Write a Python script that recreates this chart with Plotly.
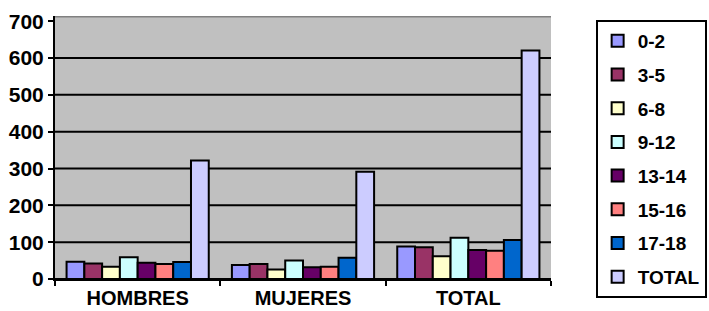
import plotly.graph_objects as go

categories = ["HOMBRES", "MUJERES", "TOTAL"]
series_names = ["0-2", "3-5", "6-8", "9-12", "13-14", "15-16", "17-18", "TOTAL"]
v_0_2 = [47, 38, 88]
v_3_5 = [42, 41, 86]
v_6_8 = [33, 26, 62]
v_9_12 = [59, 50, 112]
v_13_14 = [44, 32, 79]
v_15_16 = [41, 33, 77]
v_17_18 = [46, 58, 106]
v_total = [322, 291, 620]
series_values = [v_0_2, v_3_5, v_6_8, v_9_12, v_13_14, v_15_16, v_17_18, v_total]
colors = ["#9999FF", "#993366", "#FFFFCC", "#CCFFFF", "#660066", "#FF8080", "#0066CC", "#CCCCFF"]
y_ticks = [0, 100, 200, 300, 400, 500, 600, 700]

FONT = "Liberation Sans, Arial, sans-serif"

fig = go.Figure()
for name, vals, col in zip(series_names, series_values, colors):
    fig.add_trace(go.Bar(
        x=categories, y=vals, name=name, legendgroup=name,
        marker=dict(color=col, line=dict(color="black", width=2)),
    ))

# black gridlines inside the wall (not at 0 or the top)
for v in y_ticks[1:-1]:
    fig.add_hline(y=v, line=dict(color="black", width=2), layer="below")
# grey top edge of back wall
fig.add_hline(y=714, line=dict(color="#808080", width=3), layer="below")

fig.update_layout(
    width=709, height=311,
    margin=dict(l=55, r=158, t=16, b=32, autoexpand=False),
    paper_bgcolor="white",
    plot_bgcolor="#C0C0C0",
    barmode="group",
    bargap=0.14,
    bargroupgap=0,
    font=dict(family=FONT, size=20, color="black"),
    showlegend=True,
    legend=dict(
        x=1.09, xanchor="left", y=0.985, yanchor="top",
        bordercolor="black", borderwidth=2,
        font=dict(family=FONT, size=19, color="black", weight="bold"),
        tracegroupgap=6, itemwidth=30,
        bgcolor="white", maxheight=300,
    ),
    xaxis=dict(
        tickfont=dict(family=FONT, size=20, color="black", weight="bold"),
        showline=True, linecolor="black", linewidth=2,
        ticks="outside", tickson="boundaries", ticklen=5, tickcolor="black", tickwidth=2,
        showgrid=False,
    ),
    yaxis=dict(
        range=[0, 714], tickvals=y_ticks,
        tickfont=dict(family=FONT, size=21, color="black", weight="bold"),
        showline=True, linecolor="black", linewidth=2,
        ticks="outside", ticklen=5, tickcolor="black", tickwidth=2,
        showgrid=False,
        zeroline=True, zerolinecolor="black", zerolinewidth=2,
    ),
)

fig.write_html(
    "out.html",
    config={"displayModeBar": False},
    post_script="document.body.style.margin='0';document.body.style.overflow='hidden';",
)
